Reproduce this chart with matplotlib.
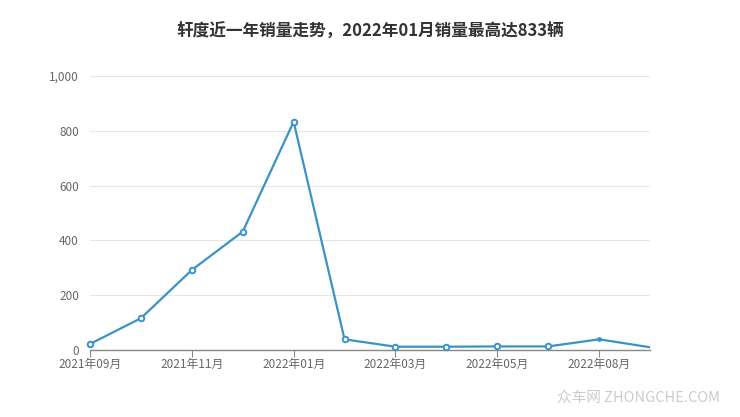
import matplotlib.pyplot as plt
from matplotlib.ticker import FuncFormatter

plt.rcParams['font.family'] = ['Noto Sans CJK SC', 'DejaVu Sans']

months = ['2021年09月', '2021年10月', '2021年11月', '2021年12月', '2022年01月', '2022年02月',
          '2022年03月', '2022年04月', '2022年05月', '2022年06月', '2022年08月', '2022年09月']
sales = [22, 116, 292, 432, 833, 39, 12, 12, 13, 13, 39, 10]
title = '轩度近一年销量走势，2022年01月销量最高达833辆'

fig = plt.figure(figsize=(7.4, 4.17), dpi=100)
ax = fig.add_axes([90 / 740, 67 / 417, 560 / 740, 274 / 417])

x = list(range(len(months)))
ax.plot(x, sales, color='#3a93c5', lw=1.6, zorder=3)
ax.plot(x[:10], sales[:10], ls='none', marker='o', ms=4, mfc='white', mec='#3a93c5',
        mew=1.4, zorder=4, clip_on=False)
ax.plot([x[10]], [sales[10]], ls='none', marker='o', ms=2.5, color='#3a93c5', zorder=4)

ax.set_xlim(0, len(months) - 1)
ax.set_ylim(0, 1000)
ax.set_yticks([0, 200, 400, 600, 800, 1000])
ax.yaxis.set_major_formatter(FuncFormatter(lambda v, p: f'{int(v):,}'))
ax.set_xticks(x[::2])
ax.set_xticklabels(months[::2])

ax.grid(axis='y', color='#e6e6e6', lw=0.8)
ax.set_axisbelow(True)
for s in ['top', 'right', 'left']:
    ax.spines[s].set_visible(False)
ax.spines['bottom'].set_color('#888888')
ax.spines['bottom'].set_linewidth(1.0)
ax.tick_params(axis='y', length=0, labelsize=8.5, labelcolor='#666666', pad=8)
ax.tick_params(axis='x', length=5, color='#888888', labelsize=8.5, labelcolor='#666666', pad=1)

fig.text(0.5, 0.925, title, ha='center', va='center', fontsize=12, fontweight='bold', color='#333333')
fig.text(0.973, 0.045, '众车网 ZHONGCHE.COM', ha='right', va='center', fontsize=10.5, color='#cccccc')

fig.savefig('out.png', dpi=100)
